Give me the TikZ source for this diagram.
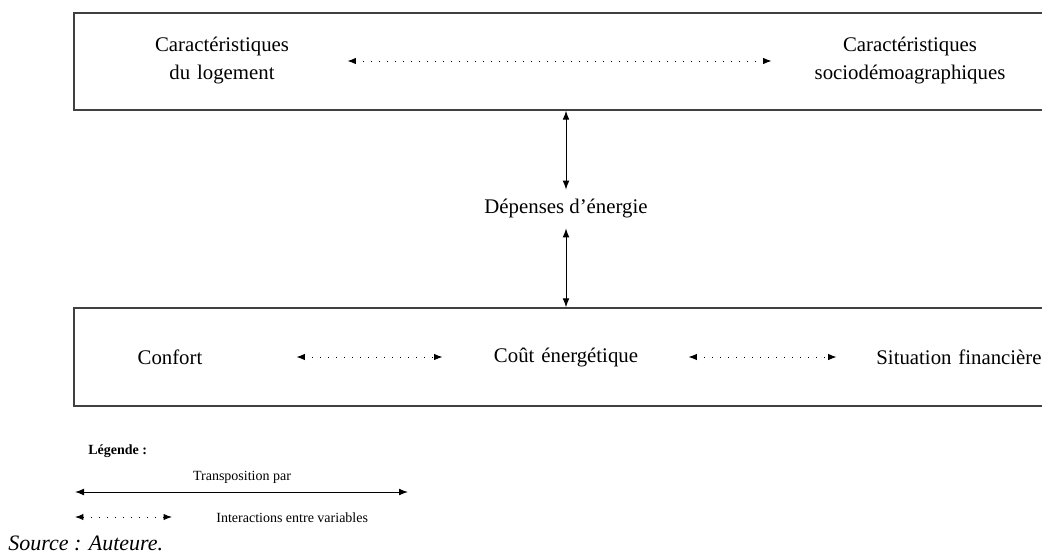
\documentclass[tikz,border=0pt]{standalone}
\usepackage{fontspec}
\setmainfont{Liberation Serif}
\usetikzlibrary{arrows.meta}
\begin{document}
\begin{tikzpicture}[x=0.5pt,y=-0.5pt,
  boxframe/.style={draw=black!75, line width=0.7pt, inner sep=0pt},
  txt/.style={font=\fontsize{10.4}{14}\selectfont, align=center, inner sep=0pt},
  legtxt/.style={font=\fontsize{7}{9}\selectfont, inner sep=0pt},
  solidarrow/.style={line width=0.5pt, {Latex[length=4.5pt,width=3.4pt]}-{Latex[length=4.5pt,width=3.4pt]}},
  dotarrow/.style={line width=0.5pt, dash pattern=on 0.5pt off 3.5pt, {Latex[length=4.2pt,width=3.2pt]}-{Latex[length=4.2pt,width=3.2pt]}}
]
\useasboundingbox (0,0) rectangle (1042,552);
% boxes
\node[boxframe, minimum width=492pt, minimum height=48.5pt] (topbox) at (566,61.5) {};
\node[boxframe, minimum width=492pt, minimum height=49pt] (botbox) at (566,357) {};
% top texts
\node[txt, text width=70pt] (logement) at (222,61) {Caractéristiques\\du logement};
\node[txt, text width=100pt] (socio) at (910,61) {Caractéristiques\\sociodémoagraphiques};
\draw[dotarrow, shorten <=27.5pt, shorten >=19pt] (logement.east) -- (socio.west);
% middle
\node[txt, minimum height=19pt] (dep) at (566,209) {Dépenses d’énergie};
\draw[solidarrow] (topbox.south) -- (dep.north);
\draw[solidarrow] (dep.south) -- (botbox.north);
% bottom texts
\node[txt, text width=40pt] (confort) at (170,357) {Confort};
\node[txt, text width=75pt] (cout) at (566,357) {Coût énergétique};
\node[txt, text width=85pt] (situation) at (959,357) {Situation financière};
\draw[dotarrow, shorten <=43pt, shorten >=24pt] (confort.east) -- (cout.west);
\draw[dotarrow, shorten <=23.5pt, shorten >=18.5pt] (cout.east) -- (situation.west);
% legend
\node[legtxt, font=\fontsize{7}{9}\selectfont\bfseries, anchor=west] (legende) at (88,451) {Légende :};
\node[legtxt] (transpo) at (242,477) {Transposition par};
\coordinate (sa1) at (75,492);
\coordinate (sa2) at (408,492);
\draw[solidarrow] (sa1) -- (sa2);
\coordinate (da1) at (75,517);
\coordinate (da2) at (172,517);
\draw[dotarrow] (da1) -- (da2);
\node[legtxt, anchor=west] (interact) at (216,518) {Interactions entre variables};
\node[font=\fontsize{11}{13}\selectfont\itshape, inner sep=0pt, anchor=west] (source) at (8,543) {Source : Auteure.};
\end{tikzpicture}
\end{document}
